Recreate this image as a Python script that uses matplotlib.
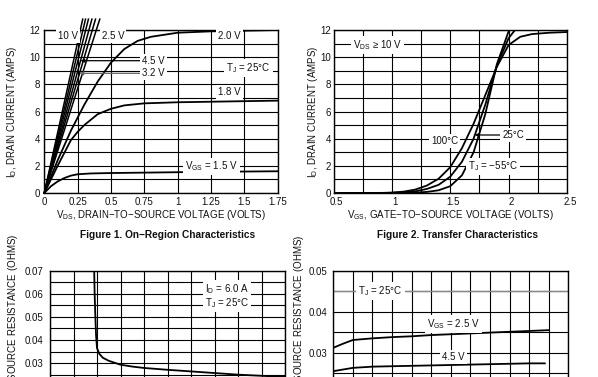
import matplotlib
matplotlib.use('Agg')
import matplotlib.pyplot as plt
import matplotlib.transforms as mtransforms
import numpy as np

plt.rcParams['font.family'] = ['Liberation Sans', 'DejaVu Sans']
plt.rcParams['mathtext.fontset'] = 'custom'
plt.rcParams['mathtext.rm'] = 'Liberation Sans'
plt.rcParams['mathtext.it'] = 'Liberation Sans:italic'
plt.rcParams['mathtext.bf'] = 'Liberation Sans:bold'

# ---------------- data ----------------
# Figure 1: On-region characteristics (VDS in V, ID in A)
steep_vgs = ['10', '8', '6', '4.5', '3.2', '2.5']
steep_vds_top = [0.288, 0.309, 0.331, 0.357, 0.384, 0.416]   # VDS where the line reaches ID_TOP
steep_id_top = 12.8

vds_20 = [0, 0.1, 0.2, 0.3, 0.4, 0.5, 0.6, 0.7, 0.8, 1.0, 1.25, 1.5, 1.75]
id_20 = [0, 2.4, 4.6, 6.5, 8.2, 9.6, 10.6, 11.2, 11.5, 11.8, 11.9, 11.95, 12.0]
vds_18 = [0, 0.1, 0.2, 0.25, 0.3, 0.4, 0.5, 0.6, 0.75, 1.0, 1.25, 1.5, 1.75]
id_18 = [0, 2.0, 3.9, 4.5, 5.0, 5.8, 6.2, 6.45, 6.6, 6.68, 6.72, 6.76, 6.8]
vds_15 = [0, 0.05, 0.1, 0.15, 0.2, 0.25, 0.35, 0.5, 0.75, 1.0, 1.25, 1.5, 1.75]
id_15 = [0, 0.5, 0.85, 1.1, 1.28, 1.38, 1.44, 1.47, 1.5, 1.53, 1.56, 1.58, 1.6]

fig1_xticks = [0, 0.25, 0.5, 0.75, 1.0, 1.25, 1.5, 1.75]
fig1_xlabels = ['0', '0.25', '0.5', '0.75', '1', '1.25', '1.5', '1.75']
id_ticks = list(range(0, 13))
id_labels = [str(v) if v % 2 == 0 else '' for v in id_ticks]

# Figure 2: Transfer characteristics (VGS in V, ID in A)
vgs_100 = [0.5, 0.9, 1.0, 1.1, 1.2, 1.3, 1.4, 1.5, 1.6, 1.7, 1.8, 1.9, 2.0, 2.1, 2.2, 2.35, 2.5]
id_100 = [0, 0, 0.03, 0.1, 0.25, 0.55, 1.05, 1.9, 3.3, 5.1, 7.2, 9.3, 10.9, 11.5, 11.7, 11.8, 11.85]
vgs_25 = [0.5, 1.0, 1.1, 1.2, 1.3, 1.4, 1.5, 1.6, 1.7, 1.8, 1.9, 2.0, 2.1]
id_25 = [0, 0.01, 0.05, 0.12, 0.3, 0.6, 1.2, 2.3, 4.0, 6.5, 9.4, 11.4, 12.5]
vgs_m55 = [0.5, 1.1, 1.2, 1.3, 1.4, 1.5, 1.6, 1.7, 1.8, 1.9, 2.0, 2.1]
id_m55 = [0, 0.01, 0.03, 0.08, 0.2, 0.5, 1.3, 3.0, 5.8, 9.5, 11.9, 13.2]

fig2_xticks = [0.5, 0.75, 1.0, 1.25, 1.5, 1.75, 2.0, 2.25, 2.5]
fig2_xlabels = ['0.5', '', '1', '', '1.5', '', '2', '', '2.5']

# Figure 3 (partial): RDS(on) vs VGS
vgs_r = [1.88, 1.9, 1.93, 1.96, 2.0, 2.1, 2.25, 2.5, 3.0, 3.5, 4.0, 5.0, 6.0, 7.0, 8.0, 9.0, 10.0]
r_vgs = [0.07, 0.06, 0.05, 0.042, 0.0365, 0.034, 0.0323, 0.031, 0.0293, 0.0285, 0.0279,
         0.0271, 0.0264, 0.0257, 0.025, 0.0245, 0.024]
fig3_yticks = [round(0.005 * i, 3) for i in range(0, 15)]
fig3_ylabels = ['%.2f' % v if i % 2 == 0 else '' for i, v in enumerate(fig3_yticks)]

# Figure 4 (partial): RDS(on) vs ID
id_r25 = [0, 0.5, 1.0, 2, 3, 4, 5, 6, 7, 8, 9, 10, 11]
r_25 = [0.0312, 0.0322, 0.0331, 0.0335, 0.0338, 0.034, 0.0343, 0.0345, 0.0347, 0.0349, 0.0351, 0.0353, 0.0355]
id_r45 = [0, 1, 2, 3, 4, 5, 6, 7, 8, 9, 10, 10.8]
r_45 = [0.0255, 0.0263, 0.0266, 0.0267, 0.0268, 0.0269, 0.027, 0.0271, 0.0272, 0.0273, 0.0274, 0.0274]
fig4_yticks = [round(0.01 + 0.005 * i, 3) for i in range(0, 9)]
fig4_ylabels = ['%.2f' % v if i % 2 == 0 else '' for i, v in enumerate(fig4_yticks)]

# ---------------- figure ----------------
W, H = 598, 377
fig = plt.figure(figsize=(W / 100, H / 100), dpi=100)


def px_axes(x0, y0, x1, y1):
    return fig.add_axes([x0 / W, 1 - y1 / H, (x1 - x0) / W, (y1 - y0) / H])


def style(ax, xticks, xlabels, yticks, ylabels):
    ax.set_xticks(xticks)
    ax.set_xticklabels(xlabels)
    ax.set_yticks(yticks)
    ax.set_yticklabels(ylabels)
    ax.tick_params(length=0, labelsize=7, pad=3, colors='#111111')
    ax.grid(True, color='black', lw=0.8)
    ax.set_axisbelow(True)
    for s in ax.spines.values():
        s.set_linewidth(1.0)


BOX = dict(facecolor='white', edgecolor='none', pad=1.5)
TXT = dict(fontsize=7, ha='center', va='center', zorder=5, bbox=BOX, color='#111111')
LW = 1.3

# ----- Figure 1 -----
ax1 = px_axes(44.3, 30, 277.7, 193)
ax1.set_xlim(0, 1.75)
ax1.set_ylim(0, 12)
style(ax1, fig1_xticks, fig1_xlabels, id_ticks, id_labels)
for v in steep_vds_top:
    ax1.plot([0, v], [0, steep_id_top], color='black', lw=1.1, clip_on=False, zorder=3)
ax1.plot(vds_20, id_20, color='black', lw=LW, zorder=3)
ax1.plot(vds_18, id_18, color='black', lw=LW, zorder=3)
ax1.plot(vds_15, id_15, color='black', lw=LW, zorder=3)

ax1.text(0.178, 11.55, '10 V', **TXT)
ax1.text(0.515, 11.55, '2.5 V', **TXT)
ax1.text(1.39, 11.55, '2.0 V', **TXT)
ax1.text(1.53, 9.2, r'T$_{\rm J}$ = 25°C', **TXT)
ax1.text(1.39, 7.4, '1.8 V', **TXT)
ax1.text(1.255, 1.95, r'V$_{\rm GS}$ = 1.5 V', **TXT)

for name, i_lvl, col in [('4.5', 9.74, 'black'), ('3.2', 8.81, '#666666')]:
    k = steep_vgs.index(name)
    tip = steep_vds_top[k] * i_lvl / steep_id_top
    ax1.annotate('', xy=(tip, i_lvl), xytext=(0.74, i_lvl),
                 arrowprops=dict(arrowstyle='-|>', color=col, lw=0.9, mutation_scale=5,
                                 shrinkA=0, shrinkB=0), zorder=4)
    ax1.text(0.82, i_lvl, name + ' V', **TXT)

ax1.set_xlabel(r'V$_{\rm DS}$, DRAIN−TO−SOURCE VOLTAGE (VOLTS)', fontsize=7, labelpad=0.5, color='#111111')
ax1.set_ylabel(r'I$_{\rm D}$, DRAIN CURRENT (AMPS)', fontsize=7, color='#111111')
ax1.yaxis.set_label_coords(-0.108, 0.5)

# ----- Figure 2 -----
ax2 = px_axes(333.5, 30, 567, 193)
ax2.set_xlim(0.5, 2.5)
ax2.set_ylim(0, 12)
style(ax2, fig2_xticks, fig2_xlabels, id_ticks, id_labels)
ax2.tick_params(axis='y', pad=2)
shift = mtransforms.ScaledTranslation(3 / 100, 0, fig.dpi_scale_trans)
for lab in ax2.get_xticklabels():
    lab.set_transform(lab.get_transform() + shift)
ax2.plot(vgs_100, id_100, color='black', lw=LW, zorder=3)
ax2.plot(vgs_25, id_25, color='black', lw=LW, zorder=3)
ax2.plot(vgs_m55, id_m55, color='black', lw=LW, zorder=3)

ax2.text(0.88, 10.9, r'V$_{\rm DS}$ ≥ 10 V', **TXT)
ax2.text(1.45, 3.8, '100°C', **TXT)
ax2.text(1.87, 1.95, r'T$_{\rm J}$ = −55°C', **TXT)
tip25 = float(np.interp(4.27, id_25, vgs_25))
ax2.annotate('', xy=(tip25, 4.27), xytext=(1.97, 4.27),
             arrowprops=dict(arrowstyle='-|>', color='black', lw=0.9, mutation_scale=5,
                             shrinkA=0, shrinkB=0), zorder=4)
ax2.text(2.04, 4.27, '25°C', **TXT)

ax2.set_xlabel(r'V$_{\rm GS}$, GATE−TO−SOURCE VOLTAGE (VOLTS)', fontsize=7, labelpad=0.5, color='#111111')
ax2.set_ylabel(r'I$_{\rm D}$, DRAIN CURRENT (AMPS)', fontsize=7, color='#111111')
ax2.yaxis.set_label_coords(-0.057, 0.5)

# ----- Captions -----
fig.text(167.7 / W, 1 - 235 / H, 'Figure 1. On−Region Characteristics', ha='center', va='center',
         fontsize=7.3, weight='bold', color='#111111')
fig.text(457.7 / W, 1 - 235 / H, 'Figure 2. Transfer Characteristics', ha='center', va='center',
         fontsize=7.3, weight='bold', color='#111111')

# ----- Figure 3 (partial) -----
ax3 = px_axes(50, 270.7, 285, 432.4)
ax3.set_xlim(0, 10)
ax3.set_ylim(0, 0.07)
style(ax3, list(range(0, 11)), [''] * 11, fig3_yticks, fig3_ylabels)
ax3.tick_params(axis='y', pad=5)
ax3.plot(vgs_r, r_vgs, color='black', lw=LW, zorder=3)
ax3.text(7.52, 0.0619, r'I$_{\rm D}$ = 6.0 A', **TXT)
ax3.text(7.52, 0.0561, r'T$_{\rm J}$ = 25°C', **TXT)
ax3.set_ylabel(r'R$_{\rm DS(on)}$, DRAIN−TO−SOURCE RESISTANCE (OHMS)', fontsize=7, color='#111111')
ax3.yaxis.set_label_coords(-0.113, 0.5)

# ----- Figure 4 (partial) -----
ax4 = px_axes(333.3, 270.7, 568.3, 434.7)
ax4.set_xlim(0, 12)
ax4.set_ylim(0.01, 0.05)
style(ax4, list(range(0, 13)), [''] * 13, fig4_yticks, fig4_ylabels)
ax4.tick_params(axis='y', pad=4)
ax4.axhline(0.045, color='#888888', lw=1.0, zorder=2)
ax4.plot(id_r25, r_25, color='black', lw=LW, zorder=3)
ax4.plot(id_r45, r_45, color='black', lw=LW, zorder=3)
ax4.text(2.41, 0.045, r'T$_{\rm J}$ = 25°C', **TXT)
ax4.text(6.13, 0.037, r'V$_{\rm GS}$ = 2.5 V', **TXT)
ax4.text(6.13, 0.029, '4.5 V', **TXT)
ax4.set_ylabel(r'R$_{\rm DS(on)}$, DRAIN−TO−SOURCE RESISTANCE (OHMS)', fontsize=7, color='#111111')
ax4.yaxis.set_label_coords(-0.105, 0.5)

fig.savefig('out.png', dpi=100)
